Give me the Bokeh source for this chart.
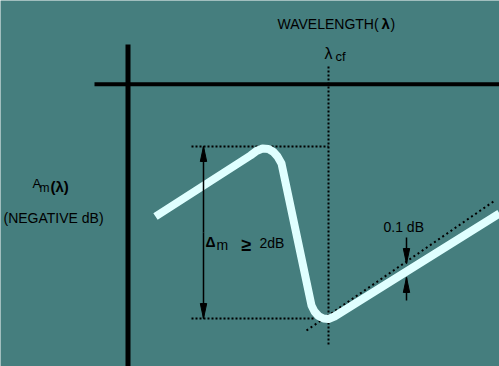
from bokeh.plotting import figure
from bokeh.models import Range1d
from bokeh.core.properties import value
from bokeh.embed import file_html
from bokeh.resources import INLINE

# ---- diagram data (pixel space of the reference) ----
curve_x = [155, 250, 256, 262, 268, 273, 277, 281, 311, 314, 318, 323, 328, 334, 499]
curve_y = [216, 155, 150.5, 148, 148.5, 151.5, 156, 163, 305, 311, 315.5, 318, 318.5, 316, 213]

tangent_x = [306, 493]
tangent_y = [330, 201]

axis_v_x = [127.5, 127.5]
axis_v_y = [44, 366]
axis_h_x = [94, 499]
axis_h_y = [83.7, 83.7]

cutoff_x = [328, 328]
cutoff_y = [66, 346]

peak_level_x = [191, 328]
peak_level_y = [146, 146]
min_level_x = [191, 313]
min_level_y = [318, 318]

# arrows: (x, tail_y, tip_y)
arrows = [
    (203, 232, 146),
    (203, 232, 318),
    (406, 237, 263),
    (406, 300, 277),
]

BG = "#457e7e"
CURVE = "#e0ffff"
INK = "#000000"
FONT = "Liberation Sans"

p = figure(width=499, height=366, x_range=Range1d(0, 499), y_range=Range1d(366, 0),
           output_backend="svg", toolbar_location=None, min_border=0)
p.axis.visible = False
p.grid.visible = False
p.outline_line_color = None
p.background_fill_color = BG
p.border_fill_color = BG

# axes
p.line(axis_v_x, axis_v_y, line_color=INK, line_width=5)
p.line(axis_h_x, axis_h_y, line_color=INK, line_width=4)

# dotted guides
for xs, ys in [(cutoff_x, cutoff_y), (peak_level_x, peak_level_y), (min_level_x, min_level_y)]:
    p.line(xs, ys, line_color=INK, line_width=2, line_dash="2 2")
p.line(tangent_x, tangent_y, line_color=INK, line_width=2, line_dash="2 3")

# curve
p.line(curve_x, curve_y, line_color=CURVE, line_width=8, line_join="round", line_cap="butt")

# arrows
HL, HW = 15, 3.2
hx, hy = [], []
for x, tail, tip in arrows:
    p.line([x, x], [tail, tip], line_color=INK, line_width=1.5)
    d = 1 if tip > tail else -1
    hx.append([x - HW, x, x + HW])
    hy.append([tip - d * HL, tip, tip - d * HL])
p.patches(hx, hy, fill_color=INK, line_color=INK, line_width=1)


def label(x, y, txt, size, bold=False):
    p.text(x=[x], y=[y], text=[txt], text_font=value(FONT), text_font_size=value(f"{size}px"),
           text_color=INK, text_baseline="alphabetic", text_align="left",
           text_font_style="bold" if bold else "normal")


label(277, 23, "WAVELENGTH(", 14)
label(381, 23, "λ", 15, True)
label(390, 23, ")", 14)
label(324, 53, "λ", 16)
label(335, 56, "cf", 13)
label(32, 183, "A", 13)
label(39, 187, "m", 12)
label(50, 186, "(λ)", 15, True)
label(3, 217, "(NEGATIVE dB)", 14)
label(205, 241, "Δ", 14, True)
label(216, 244, "m", 14)
label(241, 244, "≥", 18, True)
label(259, 242, "2dB", 14)
label(383, 226, "0.1 dB", 14)

open("out.html", "w").write(file_html(p, INLINE))
